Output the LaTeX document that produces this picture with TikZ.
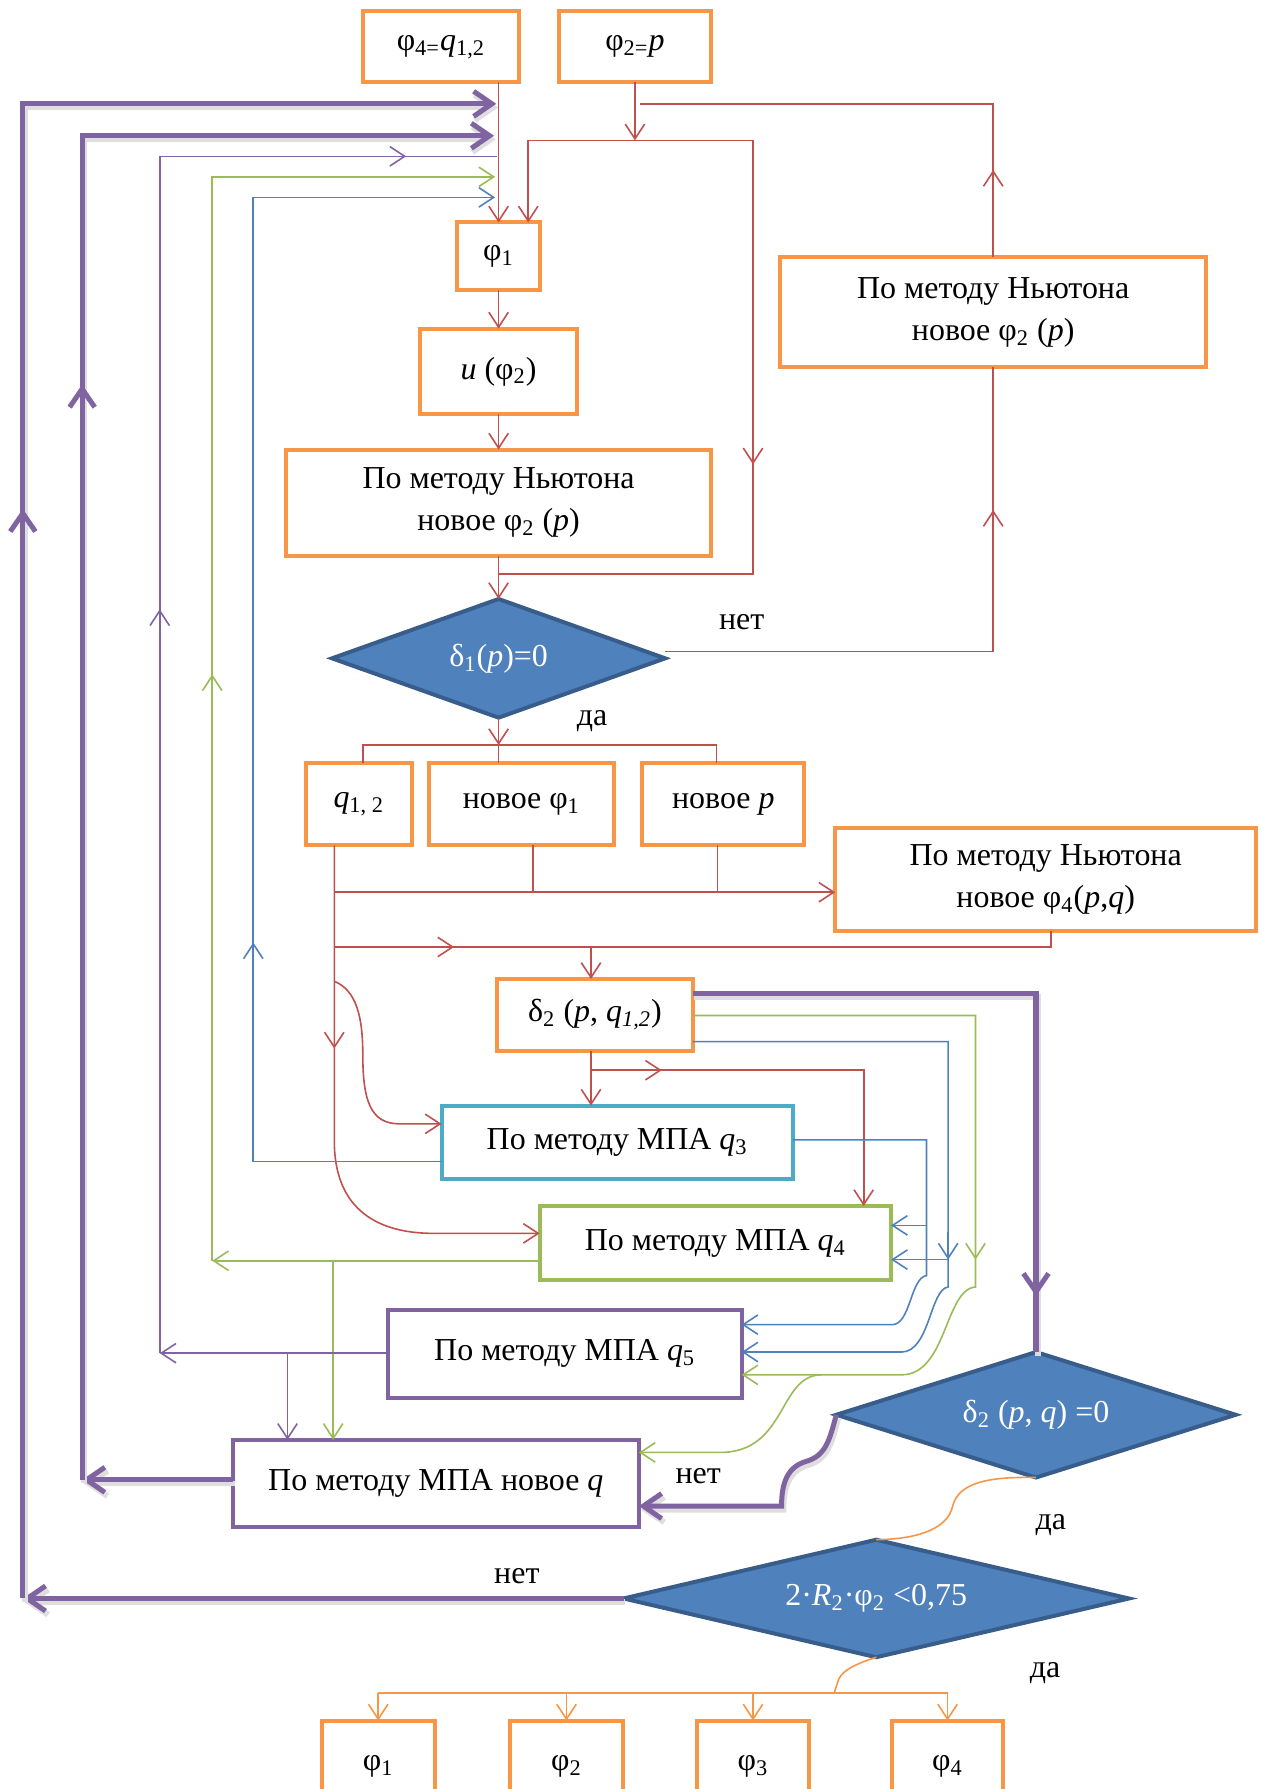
\documentclass[tikz,border=0pt]{standalone}
\usepackage{fontspec}
\setmainfont{Liberation Serif}
\usetikzlibrary{arrows.meta,shapes.geometric}
\definecolor{cred}{HTML}{C0504D}
\definecolor{cblue}{HTML}{4F81BD}
\definecolor{cgreen}{HTML}{9BBB59}
\definecolor{cpurple}{HTML}{8064A2}
\definecolor{corange}{HTML}{F79646}
\definecolor{ccyan}{HTML}{4BACC6}
\definecolor{cdia}{HTML}{4F81BD}
\definecolor{cdiab}{HTML}{385D8A}
\newcommand\lsub[1]{\textsubscript{#1}}
\tikzset{tb/.tip={Straight Barb[length=8pt,width=11pt]}}
\begin{document}
\begin{tikzpicture}[x=0.5pt,y=-0.5pt,
  font=\fontsize{14pt}{18.5pt}\selectfont,
  >={Straight Barb[length=6.5pt,width=8.5pt]},
  box/.style={draw=corange,line width=1.75pt,fill=white,inner sep=0pt,outer sep=0pt,align=center},
  dia/.style={diamond,aspect=3,draw=cdiab,fill=cdia,line width=1.75pt,inner sep=0pt,outer sep=0pt,text=white},
  rl/.style={draw=cred,line width=0.7pt},
  bl/.style={draw=cblue,line width=0.7pt},
  gl/.style={draw=cgreen,line width=0.7pt},
  pl/.style={draw=cpurple,line width=0.7pt},
  ol/.style={draw=corange,line width=0.7pt},
  tpm/.style={draw=cpurple,line width=2.2pt},
  tp/.style={tpm,
    preaction={draw=black!13,line width=2.6pt,transform canvas={shift={(0.8pt,-1.6pt)}}}}]
\clip (0,0) rectangle (1112,1568);

% blocks
\node[box,minimum width=68.5pt,minimum height=31pt] (b1) at (386.5,41) {φ\lsub{4=}\textit{q}\lsub{1,2}};
\node[box,minimum width=66.5pt,minimum height=31pt] (b2) at (556.5,41) {φ\lsub{2=}\textit{p}};
\node[box,minimum width=36.5pt,minimum height=29.5pt] (f1) at (437,224.5) {φ\lsub{1}};
\node[box,minimum width=69pt,minimum height=37.5pt] (u) at (437,325.5) {\textit{u} (φ\lsub{2})};
\node[box,minimum width=186.5pt,minimum height=46.5pt] (nl) at (437,440.5) {По методу Ньютона\\новое φ\lsub{2} (\textit{p})};
\node[box,minimum width=186.5pt,minimum height=48.5pt] (nr) at (870.5,273.5) {По методу Ньютона\\новое φ\lsub{2} (\textit{p})};
\node[dia,minimum width=146pt,minimum height=52pt] (d1) at (437,577) {δ\lsub{1}(\textit{p})=0};
\node[box,minimum width=46.5pt,minimum height=36pt] (q12) at (314.5,705) {\textit{q}\lsub{1, 2}};
\node[box,minimum width=81pt,minimum height=36pt] (nf1) at (457,705) {новое φ\lsub{1}};
\node[box,minimum width=71pt,minimum height=36pt] (np) at (634,705) {новое \textit{p}};
\node[box,minimum width=184.5pt,minimum height=45pt] (nl2) at (916.5,771) {По методу Ньютона\\новое φ\lsub{4}(\textit{p},\textit{q})};
\node[box,minimum width=85.5pt,minimum height=31.5pt] (d2) at (521.5,889.5) {δ\lsub{2} (\textit{p}, \textit{q}\lsub{\textit{1,2}})};
\node[box,draw=ccyan,minimum width=154pt,minimum height=32pt] (q3) at (541,1001) {По методу МПА \textit{q}\lsub{3}};
\node[box,draw=cgreen,minimum width=154pt,minimum height=32.5pt] (q4) at (627,1089.5) {По методу МПА \textit{q}\lsub{4}};
\node[box,draw=cpurple,minimum width=155pt,minimum height=38.5pt] (q5) at (495,1186.5) {По методу МПА \textit{q}\lsub{5}};
\node[box,draw=cpurple,minimum width=178pt,minimum height=38pt] (nq) at (382,1300) {По методу МПА новое \textit{q}};
\node[dia,minimum width=175pt,minimum height=55pt] (d3) at (908,1240) {δ\lsub{2} (\textit{p}, \textit{q}) =0};
\node[dia,minimum width=221.5pt,minimum height=51.5pt] (d4) at (768,1401) {2·\textit{R}\lsub{2}·φ\lsub{2} <0,75};
\node[box,minimum width=49.5pt,minimum height=40pt] (e1) at (331.5,1548) {φ\lsub{1}};
\node[box,minimum width=49.5pt,minimum height=40pt] (e2) at (496.5,1548) {φ\lsub{2}};
\node[box,minimum width=49pt,minimum height=40pt] (e3) at (660,1548) {φ\lsub{3}};
\node[box,minimum width=48.5pt,minimum height=40pt] (e4) at (830.5,1548) {φ\lsub{4}};

% branch labels
\node (l1) at (650,545) {нет};
\node (l2) at (519,632) {да};
\node (l3) at (612,1294) {нет};
\node (l4) at (921,1337) {да};
\node (l5) at (453,1381) {нет};
\node (l6) at (916,1466) {да};

% red: Newton iteration for p
\draw[rl,->] (b1.south -| f1.north) -- (f1.north);
\coordinate (ja) at (556.5,123);
\coordinate (jl) at (463,123);
\coordinate (jr) at (660,123);
\coordinate (jb) at (660,503);
\draw[rl,->] (b2.south) -- (ja);
\draw[rl,->] (jr) -- (jl) -- (jl |- f1.north);
\draw[rl] (jr) -- (jb) -- (nl.south |- jb);
\draw[rl,->] (660,380) -- (660,407);
\draw[rl,->] (f1.south) -- (u.north);
\draw[rl,->] (u.south) -- (nl.north);
\draw[rl,->] (nl.south) -- (d1.north);
\draw[rl] (d1.east |- 0,571) -| (nr.south);
\draw[rl,->] (nr.south |- 0,475) -- (nr.south |- 0,447);
\draw[rl] (nr.north) |- (561,91);
\draw[rl,->] (nr.north |- 0,175) -- (nr.north |- 0,149);

% red: results of the first stage
\coordinate (jc) at (437,653);
\draw[rl,->] (d1.south) -- (jc);
\draw[rl] (q12.north -| 318,0) |- (628,653) -- (np.north -| 628,0);
\draw[rl] (jc) -- (nf1.north -| 437,0);
\draw[rl,->] (q12.south -| 293,0) -- (293,1000) .. controls (293,1055) and (325,1081) .. (380,1081) -- (q4.west |- 0,1081);
\draw[rl,->] (293,890) -- (293,919);
\draw[rl,->] (293,782) -- (nl2.west |- 0,782);
\draw[rl] (nf1.south -| 467,0) -- (467,782);
\draw[rl] (np.south -| 629,0) -- (629,782);
\draw[rl] (293,830) -| (nl2.south -| 921,0);
\draw[rl,->] (370,830) -- (398,830);
\draw[rl,->] (518,830) -- (d2.north -| 518,0);
\draw[rl,->] (293,860) .. controls (312,868) and (318,890) .. (318,925) .. controls (318,965) and (325,985) .. (350,985) -- (q3.west |- 0,985);
\draw[rl,->] (d2.south -| 518,0) -- (q3.north -| 518,0);
\draw[rl,->] (518,938) -| (q4.north -| 757,0);
\draw[rl,->] (552,938) -- (580,938);

% blue
\draw[bl,->] (q3.west |- 0,1018) -| (222,173) -- (434,173);
\draw[bl,->] (222,852) -- (222,826);
\draw[bl,->] (q3.east |- 0,999) -- (812,999) -- (812,1118) .. controls (798,1120) and (798,1161) .. (782,1161) -- (q5.east |- 0,1161);
\draw[bl,->] (812,1074) -- (q4.east |- 0,1074);
\draw[bl,->] (d2.east |- 0,913) -- (831,913) -- (831,1128) .. controls (815,1130) and (815,1185) .. (790,1185) -- (q5.east |- 0,1185);
\draw[bl,->] (831,1080) -- (831,1104);
\draw[bl,->] (831,1104) -- (q4.east |- 0,1104);

% green
\draw[gl,->] (q4.west |- 0,1105) -- (186,1105);
\draw[gl,->] (186,1105) -- (186,155) -- (434,155);
\draw[gl,->] (186,617) -- (186,591);
\draw[gl,->] (292,1105) -- (nq.north -| 292,0);
\draw[gl,->] (d2.east |- 0,890) -- (855,890) -- (855,1128) .. controls (828,1130) and (830,1205) .. (790,1205) -- (q5.east |- 0,1205);
\draw[gl,->] (855,1080) -- (855,1104);
\draw[gl,->] (720,1205) .. controls (682,1205) and (690,1273) .. (631,1273) -- (nq.east |- 0,1273);

% thin purple
\draw[pl,->] (q5.west |- 0,1186) -- (140,1186);
\draw[pl] (140,1186) -- (140,137) -- (436,137);
\draw[pl,->] (330,137) -- (356,137);
\draw[pl,->] (140,560) -- (140,534);
\draw[pl,->] (252,1186) -- (nq.north -| 252,0);

% thick purple loops
\draw[tp,-tb] (nq.west |- 0,1297) -- (72,1297);
\draw[tp,-tb] (72,1297) -- (72,119) -- (433,119);
\draw[tpm,-tb] (72,368) -- (72,337);
\draw[tp,-tb] (d4.west) -- (20,1401);
\draw[tp,-tb] (20,1401) -- (20,91) -- (435,91);
\draw[tpm,-tb] (20,478) -- (20,446);
\draw[tp] (d2.east |- 0,871) -| (d3.north);
\draw[tpm,-tb] (908,1100) -- (908,1136);
\draw[tp,-tb] (d3.west) .. controls (727,1262) and (724,1276) .. (706,1281) .. controls (690,1286) and (685,1300) .. (685,1320) -- (nq.east |- 0,1320);

% orange: final stage
\draw[ol] (d3.south) .. controls (865,1294) and (840,1300) .. (835,1320) .. controls (830,1342) and (800,1349) .. (d4.north);
\coordinate (jd) at (731,1484);
\draw[ol] (d4.south) .. controls (745,1460) and (736,1466) .. (734,1475) -- (jd);
\draw[ol] (e1.north |- jd) -- (e4.north |- jd);
\foreach \e in {e1,e2,e3,e4} \draw[ol,->] (\e.north |- jd) -- (\e.north);
\end{tikzpicture}
\end{document}
